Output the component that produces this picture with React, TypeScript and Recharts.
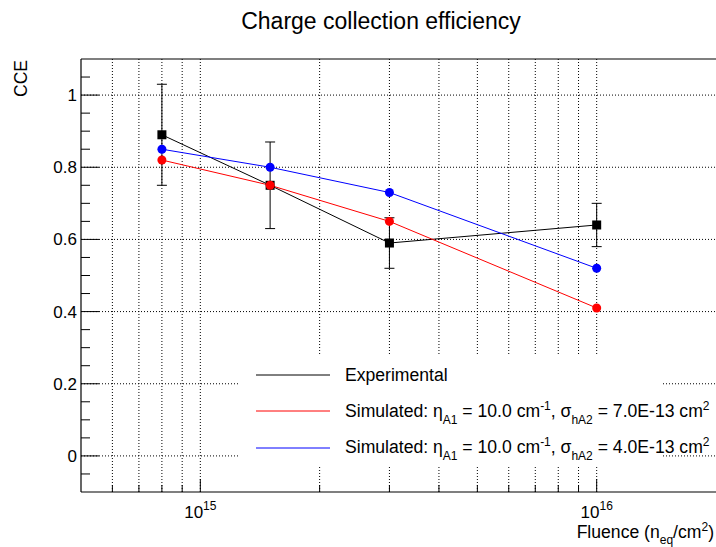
import React from "react";
import { CartesianGrid, ComposedChart, ErrorBar, Legend, Line, ReferenceLine, XAxis, YAxis } from "recharts";

const fluence = [8e14, 1.5e15, 3e15, 1e16];
const experimental = [0.89, 0.75, 0.59, 0.64];
const experimentalErr = [0.14, 0.12, 0.07, 0.06];
const simulatedRed = [0.82, 0.75, 0.65, 0.41];
const simulatedBlue = [0.85, 0.8, 0.73, 0.52];

const xTicks = [6e14, 7e14, 8e14, 9e14, 1e15, 2e15, 3e15, 4e15, 5e15, 6e15, 7e15, 8e15, 9e15, 1e16];
const yTicks = [
  -0.05, 0, 0.05, 0.1, 0.15, 0.2, 0.25, 0.3, 0.35, 0.4, 0.45, 0.5, 0.55, 0.6, 0.65, 0.7, 0.75, 0.8, 0.85,
  0.9, 0.95, 1, 1.05,
];
const yGrid = [0, 0.2, 0.4, 0.6, 0.8, 1];

const data = fluence.map((f, i) => ({
  fluence: f,
  exp: experimental[i],
  expErr: experimentalErr[i],
  red: simulatedRed[i],
  blue: simulatedBlue[i],
}));

const W = 716;
const H = 547;
const LEFT = 81;
const TOP = 59;
const BOTTOM = 55;
const PLOT_BOTTOM = H - BOTTOM;
const FONT = "'Liberation Sans', Arial, Helvetica, sans-serif";

const isMajorX = (v: number) => Math.abs(Math.log10(v) - Math.round(Math.log10(v))) < 1e-6;
const isMajorY = (v: number) => Math.abs(v * 5 - Math.round(v * 5)) < 1e-6;

function XTick(props: any) {
  const { x, payload } = props;
  const v = payload.value as number;
  const major = isMajorX(v);
  return (
    <g>
      <line x1={x} x2={x} y1={PLOT_BOTTOM} y2={PLOT_BOTTOM - (major ? 13 : 7)} stroke="#000" />
      {major && (
        <text x={x} y={PLOT_BOTTOM + 26} textAnchor="middle" fontSize={17} fontFamily={FONT} fill="#000">
          <tspan>10</tspan>
          <tspan dy={-8} fontSize={12}>
            {Math.round(Math.log10(v))}
          </tspan>
        </text>
      )}
    </g>
  );
}

function YTick(props: any) {
  const { y, payload } = props;
  const v = payload.value as number;
  const major = isMajorY(v);
  return (
    <g>
      <line x1={LEFT} x2={LEFT + (major ? 18 : 9)} y1={y} y2={y} stroke="#000" />
      {major && (
        <text x={LEFT - 4} y={y + 6} textAnchor="end" fontSize={17} fontFamily={FONT} fill="#000">
          {Number(v.toFixed(1)).toString()}
        </text>
      )}
    </g>
  );
}

function Square(props: any) {
  const { cx, cy, index } = props;
  return <rect key={`sq-${index}`} x={cx - 4.5} y={cy - 4.5} width={9} height={9} fill="#000" />;
}

function SimText({ y, sigma }: { y: number; sigma: string }) {
  return (
    <text x={105} y={y} fontSize={17.6} fontFamily={FONT} fill="#000">
      <tspan>Simulated: η</tspan>
      <tspan dy={7} fontSize={12}>A1</tspan>
      <tspan dy={-7}> = 10.0 cm</tspan>
      <tspan dy={-7} fontSize={12}>-1</tspan>
      <tspan dy={7}>, σ</tspan>
      <tspan dy={7} fontSize={12}>hA2</tspan>
      <tspan dy={-7}> = {sigma} cm</tspan>
      <tspan dy={-7} fontSize={12}>2</tspan>
    </text>
  );
}

function LegendBox() {
  return (
    <svg width={480} height={111} style={{ overflow: "visible", display: "block" }}>
      <line x1={16} x2={90} y1={21} y2={21} stroke="#000" />
      <text x={105} y={27} fontSize={17.6} fontFamily={FONT} fill="#000">
        Experimental
      </text>
      <line x1={16} x2={90} y1={57} y2={57} stroke="#ff0000" />
      <SimText y={63} sigma="7.0E-13" />
      <line x1={16} x2={90} y1={94} y2={94} stroke="#0000ff" />
      <SimText y={99} sigma="4.0E-13" />
    </svg>
  );
}

export default function App() {
  return (
    <div style={{ position: "absolute", left: 0, top: 0, width: W, height: H, background: "#fff" }}>
      <ComposedChart
        width={W}
        height={H}
        data={data}
        margin={{ top: TOP, right: 0, bottom: BOTTOM - 30, left: LEFT - 60 }}
      >
        <CartesianGrid
          verticalValues={xTicks}
          horizontalValues={yGrid}
          stroke="#000"
          strokeDasharray="1 2"
        />
        <XAxis
          dataKey="fluence"
          type="number"
          scale="log"
          domain={[5e14, 2e16]}
          allowDataOverflow
          ticks={xTicks}
          interval={0}
          height={30}
          tickLine={false}
          axisLine={{ stroke: "#000", strokeWidth: 1.2 }}
          tick={<XTick />}
        />
        <YAxis
          type="number"
          domain={[-0.1, 1.1]}
          allowDataOverflow
          ticks={yTicks}
          interval={0}
          width={60}
          tickLine={false}
          axisLine={{ stroke: "#000", strokeWidth: 1.2 }}
          tick={<YTick />}
        />
        <ReferenceLine y={1.1} stroke="#000" strokeWidth={1.2} ifOverflow="visible" />
        <Line
          dataKey="exp"
          stroke="#000"
          strokeWidth={1}
          dot={Square}
          activeDot={false}
          isAnimationActive={false}
          legendType="line"
        >
          <ErrorBar dataKey="expErr" direction="y" width={5} stroke="#000" strokeWidth={1} isAnimationActive={false} />
        </Line>
        <Line
          dataKey="red"
          stroke="#ff0000"
          strokeWidth={1}
          dot={{ r: 4.5, fill: "#ff0000", stroke: "none" }}
          activeDot={false}
          isAnimationActive={false}
        />
        <Line
          dataKey="blue"
          stroke="#0000ff"
          strokeWidth={1}
          dot={{ r: 4.5, fill: "#0000ff", stroke: "none" }}
          activeDot={false}
          isAnimationActive={false}
        />
        <Legend
          layout="horizontal"
          verticalAlign="middle"
          align="center"
          content={() => <LegendBox />}
          wrapperStyle={{ left: 240, top: 354, width: 423, height: 111, background: "#fff" }}
        />
      </ComposedChart>
      <svg
        width={W}
        height={H}
        style={{ position: "absolute", left: 0, top: 0, pointerEvents: "none" }}
      >
        <text x={381} y={29} textAnchor="middle" fontSize={23} fontFamily={FONT} fill="#000">
          Charge collection efficiency
        </text>
        <text
          x={27}
          y={60}
          textAnchor="end"
          transform="rotate(-90 27 60)"
          fontSize={17.5}
          fontFamily={FONT}
          fill="#000"
        >
          CCE
        </text>
        <text x={714} y={538} textAnchor="end" fontSize={17.6} fontFamily={FONT} fill="#000">
          <tspan>Fluence (n</tspan>
          <tspan dy={6} fontSize={12}>eq</tspan>
          <tspan dy={-6}>/cm</tspan>
          <tspan dy={-7} fontSize={12}>2</tspan>
          <tspan dy={7}>)</tspan>
        </text>
      </svg>
    </div>
  );
}
